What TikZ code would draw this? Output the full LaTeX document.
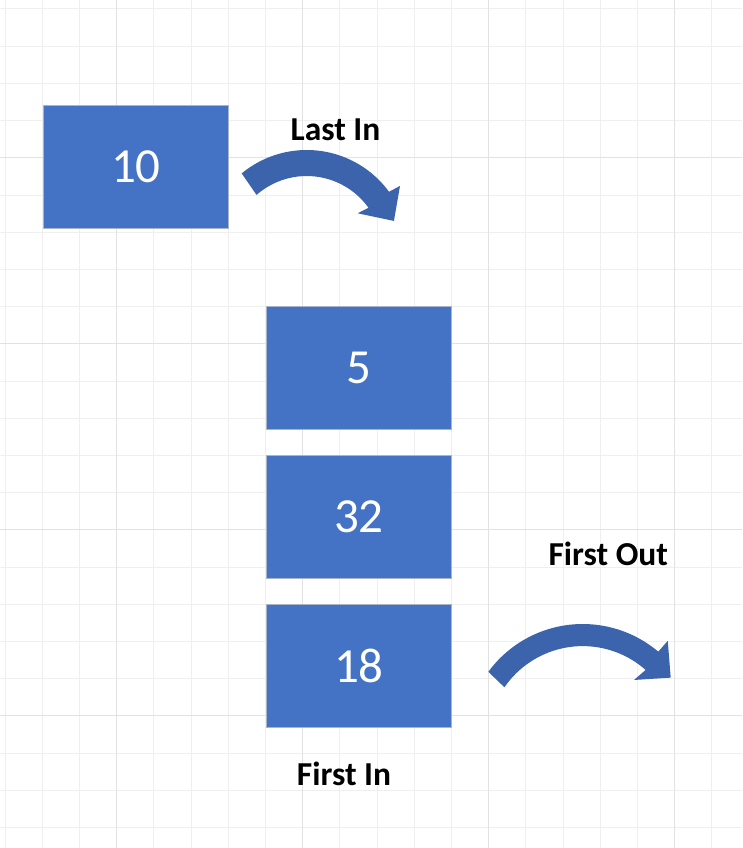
\documentclass[tikz,border=0pt]{standalone}
\usepackage{fontspec}
\setmainfont{Carlito}
\definecolor{boxblue}{HTML}{4472C4}
\definecolor{arrowblue}{HTML}{3B64AD}
\definecolor{boxline}{HTML}{A9B4C8}
\definecolor{gridminor}{HTML}{EFEFEF}
\definecolor{gridmajor}{HTML}{E2E2E2}
\begin{document}
\begin{tikzpicture}[x=1pt,y=-1pt,
  valbox/.style={fill=boxblue, draw=boxline, line width=0.8pt, minimum width=185.5pt, minimum height=123pt, inner sep=0pt, text=white, font=\fontsize{49}{58}\selectfont, anchor=north west},
  lbl/.style={font=\bfseries\fontsize{33.5}{40}\selectfont, text=black, anchor=base, inner sep=0pt},
  blockarrow/.style={fill=arrowblue, draw=none},
  minorline/.style={draw=gridminor, line width=1pt},
  majorline/.style={draw=gridmajor, line width=1pt}]
\useasboundingbox (0,0) rectangle (742,848);
\fill[white] (0,0) rectangle (742,848);
% grid
\foreach \i in {0,...,19} {\draw[minorline] ({5+37.2*\i},0) -- ({5+37.2*\i},848);}
\foreach \j in {0,...,22} {\draw[minorline] (0,{9+37.2*\j}) -- (742,{9+37.2*\j});}
\foreach \i in {3,8,13,18} {\draw[majorline] ({5+37.2*\i},0) -- ({5+37.2*\i},848);}
\foreach \j in {4,9,14,19} {\draw[majorline] (0,{9+37.2*\j}) -- (742,{9+37.2*\j});}
% boxes
\node[valbox] (n10) at (42.7,104.7) {10};
\node[valbox] (n5) at (265.7,306.3) {5};
\node[valbox] (n32) at (265.7,455) {32};
\node[valbox] (n18) at (265.7,603.7) {18};
% labels
\node[lbl] (lastin) at (335.5,140.7) {Last In};
\node[lbl] (firstout) at (608.3,565) {First Out};
\node[lbl] (firstin) at (344,785) {First In};
% curved block arrows
\begin{scope}[shift={(306.7,252)}]
  \fill[blockarrow] (129.6:102pt) arc[start angle=129.6, end angle=36.2, radius=102pt]
    -- (35.3:114.3pt) -- (19.6:92.6pt) -- (37.2:64pt) -- (35.6:76pt)
    arc[start angle=35.6, end angle=131.3, radius=76pt] -- cycle;
\end{scope}
\begin{scope}[shift={(582.7,741.1)}]
  \fill[blockarrow] (143.7:117.1pt) arc[start angle=143.7, end angle=49.8, radius=117.1pt]
    -- (49.7:131.5pt) -- (35.8:108.5pt) -- (50:79.8pt) -- (48.5:95pt)
    arc[start angle=48.5, end angle=145.5, radius=95pt] -- cycle;
\end{scope}
\end{tikzpicture}
\end{document}
